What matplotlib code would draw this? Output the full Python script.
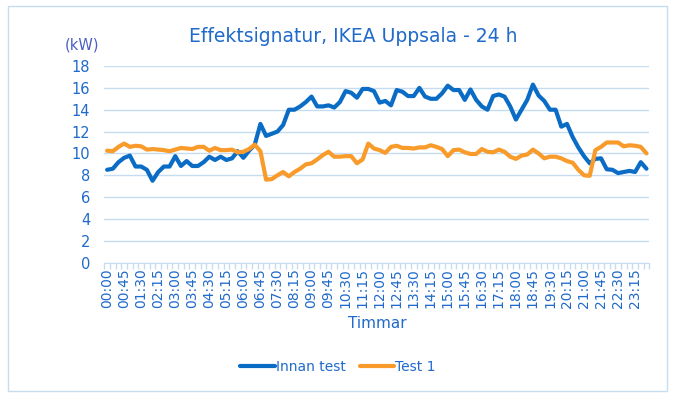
"""Effektsignatur, IKEA Uppsala - 24 h: before/after test power curves."""

import matplotlib
matplotlib.use("Agg")
import matplotlib.pyplot as plt
from matplotlib.patches import Rectangle
from matplotlib.ticker import FixedLocator, MultipleLocator

# quarter-hour readings 00:00 .. 23:45 (kW)
innan_test = [
    8.5, 8.6, 9.2, 9.6, 9.8, 8.8, 8.8, 8.5, 7.5, 8.3,
    8.8, 8.8, 9.75, 8.85, 9.3, 8.85, 8.85, 9.2, 9.7, 9.4,
    9.7, 9.4, 9.55, 10.2, 9.6, 10.25, 10.8, 12.7, 11.6, 11.8,
    12.0, 12.6, 14.0, 14.0, 14.3, 14.7, 15.2, 14.3, 14.3, 14.4,
    14.2, 14.7, 15.7, 15.55, 15.1, 15.9, 15.9, 15.7, 14.65, 14.8,
    14.4, 15.8, 15.65, 15.25, 15.25, 16.0, 15.2, 15.0, 15.0, 15.5,
    16.2, 15.8, 15.8, 14.9, 15.85, 14.9, 14.3, 14.0, 15.25, 15.4,
    15.2, 14.3, 13.1, 14.0, 14.9, 16.3, 15.3, 14.8, 14.0, 14.0,
    12.45, 12.7, 11.5, 10.55, 9.75, 9.1, 9.5, 9.55, 8.55, 8.5,
    8.2, 8.3, 8.4, 8.3, 9.2, 8.6,
]
test_1 = [
    10.25, 10.2, 10.6, 10.9, 10.6, 10.7, 10.65, 10.35, 10.4, 10.35,
    10.3, 10.2, 10.35, 10.5, 10.45, 10.4, 10.6, 10.6, 10.25, 10.5,
    10.3, 10.3, 10.35, 10.1, 10.15, 10.4, 10.8, 10.2, 7.6, 7.65,
    8.0, 8.3, 7.9, 8.3, 8.6, 9.0, 9.1, 9.45, 9.85, 10.15,
    9.7, 9.7, 9.75, 9.75, 9.1, 9.45, 10.9, 10.45, 10.3, 10.05,
    10.6, 10.7, 10.5, 10.5, 10.45, 10.55, 10.55, 10.75, 10.6, 10.4,
    9.75, 10.3, 10.35, 10.1, 9.95, 9.95, 10.4, 10.15, 10.1, 10.35,
    10.15, 9.7, 9.5, 9.8, 9.9, 10.35, 10.0, 9.55, 9.7, 9.7,
    9.55, 9.3, 9.15, 8.5, 8.0, 7.95, 10.3, 10.6, 11.0, 11.0,
    11.0, 10.65, 10.75, 10.7, 10.6, 10.0,
]
tick_labels = [
    "00:00", "00:45", "01:30", "02:15", "03:00", "03:45", "04:30", "05:15",
    "06:00", "06:45", "07:30", "08:15", "09:00", "09:45", "10:30", "11:15",
    "12:00", "12:45", "13:30", "14:15", "15:00", "15:45", "16:30", "17:15",
    "18:00", "18:45", "19:30", "20:15", "21:00", "21:45", "22:30", "23:15",
]

TEXT = "#1F6ACB"
GRID = "#C6DCF1"
BLUE = "#0A6CC4"
ORANGE = "#F99B2B"
FONT = ["DejaVu Sans"]


def main() -> None:
    plt.rcParams["font.family"] = FONT
    fig = plt.figure(figsize=(6.73, 3.98), dpi=100)
    fig.patches.append(
        Rectangle((8 / 673, 7 / 398), 659 / 673, 385 / 398, transform=fig.transFigure,
                  fill=False, edgecolor=GRID, linewidth=1.0)
    )
    ax = fig.add_axes([104.3 / 673, 1 - 262.7 / 398, 545 / 673, (262.7 - 66) / 398])

    x = list(range(len(innan_test)))
    ax.plot(x, innan_test, color=BLUE, linewidth=3.0, solid_capstyle="round",
            solid_joinstyle="round", label="Innan test")
    ax.plot(x, test_1, color=ORANGE, linewidth=3.0, solid_capstyle="round",
            solid_joinstyle="round", label="Test 1")

    ax.set_xlim(-0.5, len(x) - 0.5)
    ax.set_ylim(0, 18)
    ax.yaxis.set_major_locator(MultipleLocator(2))
    ax.grid(True, axis="y", color=GRID, linewidth=1.0)
    ax.set_axisbelow(True)

    ax.xaxis.set_major_locator(FixedLocator([i * 3 for i in range(len(tick_labels))]))
    ax.set_xticklabels(tick_labels, rotation=90, fontsize=10, color=TEXT)
    ax.xaxis.set_minor_locator(FixedLocator([i - 0.5 for i in range(len(x) + 1)]))
    ax.tick_params(axis="x", which="major", length=0, pad=4)
    ax.tick_params(axis="x", which="minor", length=4, color=GRID, width=1.0)
    ax.tick_params(axis="y", length=0, labelsize=10.5, labelcolor=TEXT, pad=10)

    for side in ("top", "right", "left"):
        ax.spines[side].set_visible(False)
    ax.spines["bottom"].set_color(GRID)

    fig.text(0.525, 1 - 36 / 398, "Effektsignatur, IKEA Uppsala - 24 h",
             ha="center", va="center", fontsize=13.5, color=TEXT)
    fig.text(82 / 673, 1 - 45 / 398, "(kW)", ha="center", va="center",
             fontsize=10.5, color="#4A5FC4")
    fig.text(377 / 673, 1 - 324 / 398, "Timmar", ha="center", va="center",
             fontsize=11, color=TEXT)

    leg = fig.legend(loc="center", bbox_to_anchor=(338 / 673, 1 - 367 / 398), ncol=2,
                     frameon=False, fontsize=10, handlelength=2.5,
                     handletextpad=0.05, columnspacing=1.0)
    for text in leg.get_texts():
        text.set_color(TEXT)

    fig.savefig("out.png", dpi=100)
    plt.close(fig)


if __name__ == "__main__":
    main()
